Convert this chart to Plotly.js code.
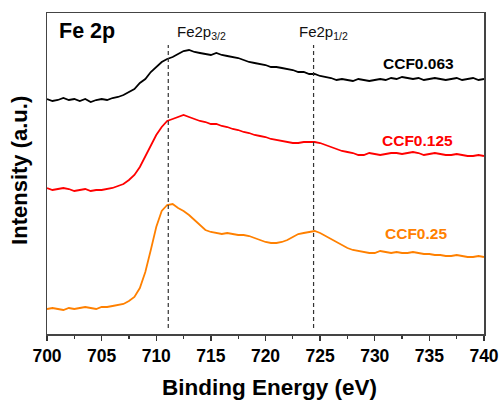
<!DOCTYPE html>
<html><head><meta charset="utf-8">
<script src="https://cdn.plot.ly/plotly-3.0.1.min.js"></script>
<style>html,body{margin:0;padding:0;background:#fff}#chart{width:500px;height:400px}</style>
</head><body><div id="chart"></div>
<script>
const energy = [700,700.5,701,701.5,702,702.5,703,703.5,704,704.5,705,705.5,706,706.5,707,707.5,708,708.5,709,709.5,710,710.5,711,711.5,712,712.5,713,713.5,714,714.5,715,715.5,716,716.5,717,717.5,718,718.5,719,719.5,720,720.5,721,721.5,722,722.5,723,723.5,724,724.5,725,725.5,726,726.5,727,727.5,728,728.5,729,729.5,730,730.5,731,731.5,732,732.5,733,733.5,734,734.5,735,735.5,736,736.5,737,737.5,738,738.5,739,739.5,740];
const ccf0063 = [235,233,234,236,234,235,233,235,232,234,235,234,236,237,239,242,245,251,255,262,267,272,275,277,280,283,284,282,281,280,279,281,279,278,277,276,274,272,271,270,269,267,267,266,265,264,262,262,260,260,258,257,256,254,255,254,253,255,254,253,254,255,254,256,255,257,256,255,256,254,255,256,255,254,255,256,254,255,256,254,255];
const ccf0125 = [146,144,145,146,145,143,144,145,143,144,144,145,146,148,150,154,159,167,178,189,199,207,213,215,217,219,217,215,213,212,210,210,208,207,205,204,202,201,199,198,197,195,194,193,192,191,191,192,192,192,191,189,187,185,183,182,181,179,179,181,180,179,180,181,181,180,181,182,181,179,180,181,180,179,179,180,179,178,178,179,178];
const ccf025  = [25,26,25,24,26,25,26,27,26,25,27,27,28,29,30,33,37,46,62,84,107,123,129,130,126,123,119,114,109,104,102,101,100,101,100,99,99,98,96,94,92,91,91,92,94,97,100,101,102,103,101,98,95,92,89,86,84,83,82,81,81,83,82,81,82,81,81,82,81,80,80,79,79,78,78,79,78,77,77,78,77];
const seriesNames = ['CCF0.063','CCF0.125','CCF0.25'];
const colors = ['#000000','#ff0000','#ff8000'];
const peakEnergies = [711.1, 724.4];
const peakLabels = ['Fe2p<sub>3/2</sub>','Fe2p<sub>1/2</sub>'];
const peakLabelX = [711.7, 722.9];
const dashRange = [6, 289];
const labelPos = [[737.4,271],[737.3,194],[736.8,101]];

const font = 'Liberation Sans, Arial, sans-serif';
const traces = [ccf0063, ccf0125, ccf025].map((ys,i)=>({
  x: energy, y: ys, type:'scatter', mode:'lines', name: seriesNames[i],
  line:{color:colors[i], width:1.8}, showlegend:false
}));
peakEnergies.forEach(e=>traces.push({x:[e,e], y:dashRange, type:'scatter', mode:'lines',
  line:{color:'#333', width:1.2, dash:'4px,3px'}, showlegend:false}));

const annotations = [
  {xref:'paper', yref:'paper', x:0.023, y:0.944, xanchor:'left', yanchor:'middle', text:'<b>Fe 2p</b>', showarrow:false, font:{family:font, size:21.5, color:'#000'}},
  {xref:'paper', yref:'paper', x:0.509, y:-0.168, xanchor:'center', yanchor:'middle', text:'<b>Binding Energy (eV)</b>', showarrow:false, font:{family:font, size:22.5, color:'#000'}},
  {xref:'paper', yref:'paper', x:-0.062, y:0.511, xanchor:'center', yanchor:'middle', textangle:-90, text:'<b>Intensity (a.u.)</b>', showarrow:false, font:{family:font, size:22, color:'#000'}},
];
peakLabelX.forEach((e,i)=>annotations.push({x:e, y:302, xref:'x', yref:'y', xanchor:'left', yanchor:'middle', text:peakLabels[i], showarrow:false, font:{family:font, size:15, color:'#111'}}));
seriesNames.forEach((n,i)=>annotations.push({x:labelPos[i][0], y:labelPos[i][1], xref:'x', yref:'y', xanchor:'right', yanchor:'middle', text:'<b>'+n+'</b>', showarrow:false, font:{family:font, size:15.5, color:colors[i]}}));

Plotly.newPlot('chart', traces, {
  width:500, height:400,
  margin:{l:47, r:16, t:13, b:66},
  paper_bgcolor:'#fff', plot_bgcolor:'#fff',
  font:{family:font},
  xaxis:{range:[700,740], dtick:5, tick0:700, ticks:'outside', ticklen:5, tickwidth:1.3, tickcolor:'#333',
    minor:{dtick:2.5, ticks:'outside', ticklen:3, tickcolor:'#333'},
    showline:true, mirror:true, linecolor:'#444', linewidth:1.5, showgrid:false, zeroline:false,
    tickfont:{family:font, size:17.5, color:'#000', weight:'bold'}},
  yaxis:{range:[0,321], showticklabels:false, ticks:'', showline:true, mirror:true, linecolor:'#444', linewidth:1.5,
    showgrid:false, zeroline:false},
  annotations: annotations
}, {displayModeBar:false, staticPlot:true});
</script></body></html>
